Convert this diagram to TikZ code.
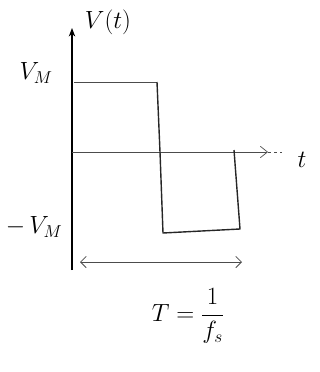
\documentclass[tikz,border=0pt]{standalone}
\usepackage{amsmath}
\usetikzlibrary{arrows.meta}
\tikzset{
    lbl/.style={inner sep=1pt, font=\fontsize{25}{28}\selectfont},
    axis/.style={-{Stealth[length=3mm]}, line width=1.6pt, draw=black},
    haxis/.style={-{Straight Barb[length=2.5mm, width=4mm]}, line width=0.7pt, draw=black!70},
    wave/.style={line width=1.4pt, draw=black!85, line join=round},
    level/.style={line width=0.7pt, draw=black!70},
    span/.style={{Straight Barb[length=2mm, width=4mm]}-{Straight Barb[length=2mm, width=4mm]}, line width=0.8pt, draw=black!70}
}

\begin{document}
\begin{tikzpicture}[x=1pt, y=-1pt]
  \useasboundingbox (0,0) rectangle (320,372);

  % --- Axes ---
  \coordinate (o)   at (72,270);
  \coordinate (vtop) at (72,28);
  \coordinate (t0)  at (72,152);
  \coordinate (tend) at (268,152);
  \draw[axis] (o) -- (vtop);
  \draw[haxis] (t0) -- (tend);
  \draw[level, dashed] (tend) -- (282,152);

  % --- Square wave ---
  \coordinate (hi0) at (74,82);
  \coordinate (hi1) at (157,82);
  \coordinate (lo0) at (163,233);
  \coordinate (lo1) at (240,229);
  \coordinate (back) at (234,150);
  \draw[level] (hi0) -- (hi1);
  \draw[wave] (hi1) -- (160,152) -- (lo0) -- (lo1) -- (back);

  % --- Labels ---
  \node[lbl] (vlab)  at (108,22)  {$V(t)$};
  \node[lbl] (vmax)  at (36,73)   {$V_M$};
  \node[lbl] (vmin)  at (34,227)  {$-\,V_M$};
  \node[lbl] (tlab)  at (302,160) {$t$};

  % --- Period ---
  \coordinate (p0) at (80,262);
  \coordinate (p1) at (242,262);
  \draw[span] (p0) -- (p1);
  \node[lbl] (per) at (188,316) {$T=\dfrac{1}{f_s}$};

\end{tikzpicture}
\end{document}
